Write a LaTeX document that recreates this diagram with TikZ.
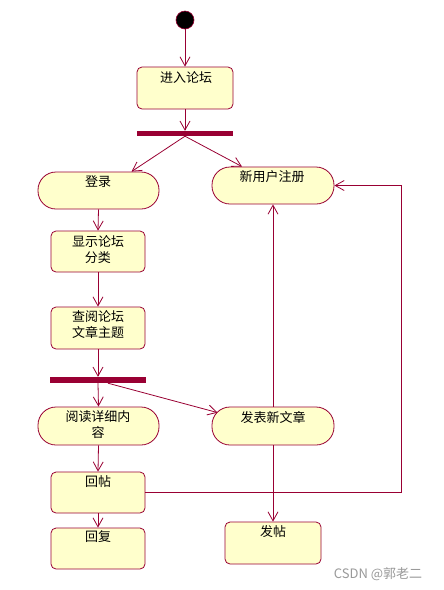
\documentclass[tikz,border=0pt]{standalone}
\usepackage{fontspec}
\setmainfont{Noto Sans CJK SC}
\usetikzlibrary{arrows.meta}
\definecolor{umlred}{RGB}{153,0,51}
\definecolor{umlfill}{RGB}{255,255,204}
\tikzset{
  every picture/.style={x=1pt,y=-1pt},
  act/.style={draw=umlred,fill=umlfill,line width=0.8pt,rounded corners=5pt,inner sep=0pt},
  stad/.style={draw=umlred,fill=umlfill,line width=0.8pt,rounded corners=18pt,inner sep=0pt},
  bar/.style={fill=umlred,draw=none,inner sep=0pt},
  lbl/.style={inner sep=0pt,align=center,font=\fontsize{13}{16}\selectfont},
  arr/.style={draw=umlred,line width=0.8pt,-{Straight Barb[length=9pt,width=10pt,line width=0.8pt]}},
}
\begin{document}
\begin{tikzpicture}
\useasboundingbox[fill=white] (0,0) rectangle (444,590);
% start
\node[circle,fill=black,draw=umlred,line width=0.6pt,minimum size=18pt,inner sep=0pt] (start) at (185,20) {};
% boxes
\node[act,minimum width=96pt,minimum height=42pt] (enter) at (185,88) {};
\node[lbl] (tenter) at (186,78) {进入论坛};
\node[bar,minimum width=96pt,minimum height=5pt] (bar1) at (185,133.5) {};
\node[stad,minimum width=121pt,minimum height=37pt] (login) at (98.5,190.5) {};
\node[lbl] (tlogin) at (98,182) {登录};
\node[stad,minimum width=122pt,minimum height=37pt] (reg) at (273,185.5) {};
\node[lbl] (treg) at (272,177) {新用户注册};
\node[act,minimum width=94pt,minimum height=41pt] (show) at (98,251.5) {};
\node[lbl] (tshow) at (98,250) {显示论坛\\分类};
\node[act,minimum width=94pt,minimum height=42pt] (browse) at (98,328) {};
\node[lbl] (tbrowse) at (98,325) {查阅论坛\\文章主题};
\node[bar,minimum width=96pt,minimum height=6pt] (bar2) at (98,380) {};
\node[stad,minimum width=121pt,minimum height=38pt] (read) at (98.5,426) {};
\node[lbl] (tread) at (98,425) {阅读详细内\\容};
\node[stad,minimum width=122pt,minimum height=38pt] (post) at (273,426) {};
\node[lbl] (tpost) at (273,417) {发表新文章};
\node[act,minimum width=94pt,minimum height=41pt] (reply) at (98,492.5) {};
\node[lbl] (treply) at (98,482) {回帖};
\node[act,minimum width=94pt,minimum height=41pt] (answer) at (98,548.5) {};
\node[lbl] (tanswer) at (98,537) {回复};
\node[act,minimum width=96pt,minimum height=42pt] (fatie) at (273,543) {};
\node[lbl] (tfatie) at (273,532) {发帖};
% connectors
\draw[arr] (start) -- (enter.north);
\draw[arr] (enter.south) -- (bar1.north);
\draw[arr] (bar1.south) -- ([xshift=33pt]login.north);
\draw[arr] (bar1.south) -- ([xshift=-31pt]reg.north);
\draw[arr] (login.south) -- (show.north);
\draw[arr] (show.south) -- (browse.north);
\draw[arr] (browse.south) -- (bar2.north);
\draw[arr] (bar2.south) -- (read.north);
\draw[arr] ([xshift=10pt]bar2.south) -- ([shift={(6,6)}]post.north west);
\draw[arr] (post.north) -- (reg.south);
\draw[arr] (post.south) -- (fatie.north);
\draw[arr] (read.south) -- (reply.north);
\draw[arr] (reply.south) -- (answer.north);
\draw[arr] (reply.east) -| ([xshift=67pt]reg.east) -- (reg.east);
% watermark
\node[inner sep=0pt,text=black!40,font=\fontsize{13}{15}\selectfont] (wm) at (378,574) {CSDN @郭老二};
\end{tikzpicture}
\end{document}
